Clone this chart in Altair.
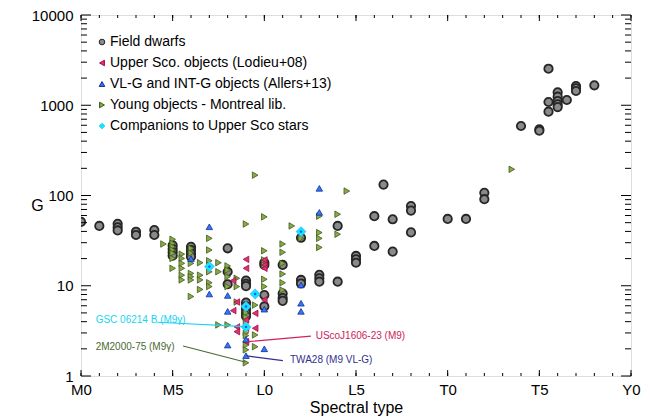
import altair as alt
import pandas as pd

# Spectral type coded numerically: M0=0, M5=5, L0=10, L5=15, T0=20, T5=25, Y0=30
sp_tick_values = [0, 5, 10, 15, 20, 25, 30]
sp_tick_labels = ["M0", "M5", "L0", "L5", "T0", "T5", "Y0"]
sp_minor_ticks = list(range(0, 31))
g_major_ticks = [1, 10, 100, 1000, 10000]
g_minor_ticks = [2, 3, 4, 5, 6, 7, 8, 9, 20, 30, 40, 50, 60, 70, 80, 90,
                 200, 300, 400, 500, 600, 700, 800, 900,
                 2000, 3000, 4000, 5000, 6000, 7000, 8000, 9000]

groups = ["Field dwarfs", "Upper Sco. objects (Lodieu+08)",
          "VL-G and INT-G objects (Allers+13)", "Young objects - Montreal lib.",
          "Companions to Upper Sco stars"]

field_sp = [0, 1, 2, 2, 2, 3, 3, 4, 4, 5, 5, 5, 5, 6, 6, 6, 6,
            8, 8, 8, 9, 9, 9, 9, 9, 9, 9, 9, 10, 10, 10, 10, 11, 11, 11, 11,
            12, 12, 12, 13, 13, 13, 14, 14, 15, 15, 15, 16, 16, 16.5, 17, 17,
            18, 18, 18, 20, 21, 22, 22, 24, 25, 25, 25.5, 25.5, 25.5,
            26, 26, 26, 26, 26, 26.5, 27, 27, 27, 28]
field_g = [51, 46, 48.5, 44.5, 41, 39.7, 36.5, 41.5, 36.5, 28, 25.5, 23.5, 21.5, 27, 24.9, 22.9, 21,
           26, 14.3, 10.4, 11.4, 10.5, 9.9, 6.5, 5.9, 5.5, 5.0, 4.6, 18, 17, 7.9, 5.9, 17, 8.2, 7.3, 6.8,
           34, 11.6, 10.6, 13.2, 12.1, 11.1, 46, 11.1, 21.4, 19.6, 18, 59, 27.6, 132, 54.5, 23.9,
           76.5, 68, 39, 55, 55, 107, 91, 589, 541, 522, 2540, 1087, 849,
           1390, 1245, 1114, 1023, 955, 1143, 1633, 1541, 1439, 1663]

usco_sp = [8.3, 8.5, 8.3, 8.5, 8.5, 9.0, 9.0, 9.0, 9.0, 9.0, 9.5, 9.5, 10, 10, 10, 10]
usco_g = [11.4, 6.6, 5.3, 3.5, 3.1, 19.6, 15.6, 4.17, 3.38, 2.4, 4.95, 3.38, 19.3, 17, 15.6, 7.0]

vlg_sp = [6, 7, 7, 8, 8, 8, 9, 9, 10, 10, 12, 12, 12, 13, 13]
vlg_g = [20, 45, 8.1, 7.8, 5.2, 2.2, 2.55, 1.68, 5.5, 2.0, 10.2, 6.4, 5.2, 120, 65]

young_sp = [4.5,
            5, 5, 5, 5, 5, 5, 5,
            5.5, 5.5, 5.5, 5.5, 5.5, 5.5,
            6, 6, 6, 6, 6, 6, 6,
            6.5, 6.5, 6.5, 6.5,
            7, 7, 7, 7, 7, 7, 7,
            7.5, 7.5, 7.5,
            8, 8, 8, 8, 8,
            8.5, 8.5, 8.5,
            9, 9, 9, 9, 9, 9, 9, 9, 9,
            9.5, 9.5, 9.5, 9.5,
            10, 10, 10, 10, 10, 10,
            11, 11, 11, 11, 11, 11,
            11.5, 12, 13, 13, 13, 13, 14, 14, 14.5, 23.5]
young_g = [29,
           32.7, 29.5, 27.1, 24.9, 22.9, 20.1, 15.6,
           22.4, 20.1, 17.7, 15.6, 13.1, 11.6,
           26, 23, 17.7, 13.7, 12.6, 11.6, 7.6,
           18, 13.1, 11.6, 9.1,
           33.5, 24.9, 18.9, 17, 14.3, 10.8, 9.8,
           18, 14.3, 3.68,
           16.6, 14.9, 12.6, 9.8, 3.68,
           12.1, 9.8, 6.6,
           48.3, 5.0, 4.5, 4.0, 3.0, 2.8, 2.2, 1.95, 1.40,
           168, 6.1, 2.85, 2.11,
           58, 24.4, 19.3, 17, 11.8, 9.8,
           29, 23.5, 17.7, 13.5, 10.8, 8.95,
           46, 33.5, 59, 38.8, 33.5, 26.6, 62, 37.2, 112, 195]

comp_sp = [7, 9, 9, 9.5, 12]
comp_g = [16.3, 5.9, 3.5, 8.1, 39.8]

ann_text = ["GSC 06214 B (M9γ)", "2M2000-75 (M9γ)", "UScoJ1606-23 (M9)", "TWA28 (M9 VL-G)"]
ann_color = ["#19d3f0", "#4a6a30", "#d0205a", "#303090"]
ann_sp = [0.8, 0.8, 12.8, 11.4]
ann_g = [4.17, 2.11, 2.8, 1.50]
line_sp1 = [4.16, 5.57, 9.12, 9.03]
line_g1 = [3.94, 2.15, 2.4, 1.67]
line_sp2 = [8.94, 8.94, 12.54, 11.01]
line_g2 = [3.52, 1.43, 2.77, 1.48]

W, H = 550, 361
PAD_L = 73
xs = alt.Scale(domain=[0, 30], nice=False, zero=False)
ys = alt.Scale(type="log", domain=[1, 10000], nice=False)

label_expr = "[" + ",".join('"%s"' % l for l in sp_tick_labels) + "][round(datum.value/5)]"

shapes = ["circle", "triangle-left", "triangle-up", "triangle-right", "diamond"]
fills = ["#8a8a8a", "#e0306e", "#2b7bff", "#8ca848", "#00f0ff"]
strokes = ["#262626", "#a01048", "#1a2a90", "#3d5a1e", "#3fc8ff"]
sizes = [70, 42, 42, 42, 85]
swidths = [1.8, 0.8, 0.8, 0.8, 1.2]

x_axis = alt.Axis(values=sp_tick_values, labelExpr=label_expr, ticks=False, domain=False,
                  grid=False, labelFontSize=15, labelPadding=6, labelColor="black",
                  labelFlush=False, labelOverlap=False,
                  title="Spectral type", titleFontSize=16, titleFontWeight="normal",
                  titlePadding=2, titleColor="black")
y_axis = alt.Axis(values=g_major_ticks, format="d", ticks=False, domain=False, grid=False,
                  labelFontSize=15, labelPadding=8, labelColor="black",
                  labelFlush=False, labelOverlap=False,
                  title="G", titleAngle=0, titleX=37 - 8 - PAD_L, titleY=190, titleAlign="center",
                  titleBaseline="middle", titleFontSize=16, titleFontWeight="normal",
                  titleColor="black")

legend = alt.Legend(title=None, orient="none", legendX=14, legendY=20,
                    labelFontSize=14, symbolSize=32, rowPadding=7, labelLimit=0,
                    labelOffset=1, labelColor="black", symbolStrokeWidth=1)

group_data = [(groups[0], field_sp, field_g), (groups[3], young_sp, young_g),
              (groups[1], usco_sp, usco_g), (groups[2], vlg_sp, vlg_g),
              (groups[4], comp_sp, comp_g)]

layers = []
for k, (name, sps, gs) in enumerate(group_data):
    i = groups.index(name)
    d = pd.DataFrame({"sp": sps, "G": gs, "group": [name] * len(sps)})
    enc = dict(
        x=alt.X("sp:Q", scale=xs, axis=x_axis if k == 0 else alt.Undefined),
        y=alt.Y("G:Q", scale=ys, axis=y_axis if k == 0 else alt.Undefined),
        shape=alt.Shape("group:N", scale=alt.Scale(domain=groups, range=shapes),
                        legend=legend if k == 0 else alt.Undefined),
        fill=alt.Fill("group:N", scale=alt.Scale(domain=groups, range=fills)),
        stroke=alt.Stroke("group:N", scale=alt.Scale(domain=groups, range=strokes)),
    )
    layers.append(alt.Chart(d).mark_point(filled=True, opacity=1, clip=True,
                                          size=sizes[i], strokeWidth=swidths[i]).encode(**enc))

comp_df = pd.DataFrame({"sp": comp_sp, "G": comp_g})
comp_dots = alt.Chart(comp_df).mark_point(filled=True, size=6, color="#1050ff", opacity=1).encode(
    x=alt.X("sp:Q", scale=xs), y=alt.Y("G:Q", scale=ys))

line_df = pd.DataFrame({"sp": line_sp1, "G": line_g1, "x2": line_sp2, "y2": line_g2, "col": ann_color})
ann_lines = alt.Chart(line_df).mark_rule(strokeWidth=1.2).encode(
    x=alt.X("sp:Q", scale=xs), y=alt.Y("G:Q", scale=ys),
    x2="x2:Q", y2="y2:Q", color=alt.Color("col:N", scale=None))

txt_df = pd.DataFrame({"sp": ann_sp, "G": ann_g, "t": ann_text, "col": ann_color})
ann_txt = alt.Chart(txt_df).mark_text(align="left", baseline="middle", fontSize=10).encode(
    x=alt.X("sp:Q", scale=xs), y=alt.Y("G:Q", scale=ys),
    text="t:N", color=alt.Color("col:N", scale=None))

def xticks(vals, length):
    d = pd.DataFrame({"sp": vals})
    b = alt.Chart(d).mark_rule(color="black", strokeWidth=1).encode(
        x=alt.X("sp:Q", scale=xs), y=alt.value(H), y2=alt.value(H - length))
    t = alt.Chart(d).mark_rule(color="black", strokeWidth=1).encode(
        x=alt.X("sp:Q", scale=xs), y=alt.value(0), y2=alt.value(length))
    return [b, t]

def yticks(vals, length):
    d = pd.DataFrame({"G": vals})
    l = alt.Chart(d).mark_rule(color="black", strokeWidth=1).encode(
        y=alt.Y("G:Q", scale=ys), x=alt.value(0), x2=alt.value(length))
    r = alt.Chart(d).mark_rule(color="black", strokeWidth=1).encode(
        y=alt.Y("G:Q", scale=ys), x=alt.value(W), x2=alt.value(W - length))
    return [l, r]

tick_layers = xticks(sp_minor_ticks, 3) + xticks(sp_tick_values, 6) + \
    yticks(g_minor_ticks, 6) + yticks(g_major_ticks, 10)

chart = alt.layer(*layers, comp_dots, ann_lines, ann_txt, *tick_layers).properties(
    width=W, height=H,
    autosize=alt.AutoSizeParams(type="none"),
    padding={"left": PAD_L, "top": 7, "right": 11, "bottom": 42},
).configure_view(stroke="black", strokeWidth=1.5).configure(
    font="Liberation Sans"
).configure_axis(labelFont="Liberation Sans", titleFont="Liberation Sans")

chart.save("out.html", embed_options={"renderer": "svg", "actions": False})
